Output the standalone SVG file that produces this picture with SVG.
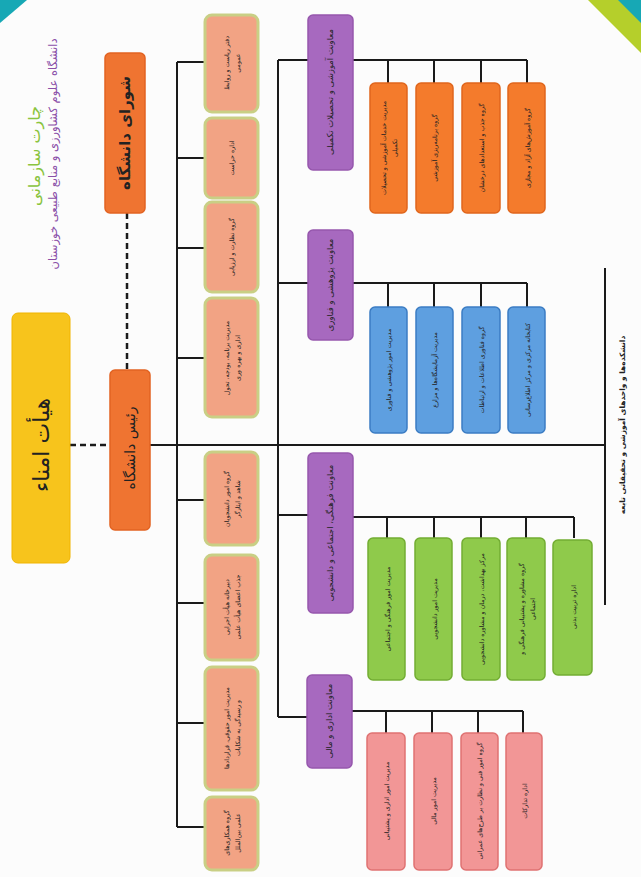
<svg xmlns="http://www.w3.org/2000/svg" width="641" height="877" viewBox="0 0 641 877">
<defs>
<style>
text{font-family:"DejaVu Sans","Noto Sans",sans-serif;fill:#222;text-anchor:middle;dominant-baseline:central}
.ln{stroke:#1a1a1a;stroke-width:2;fill:none}
.dash{stroke:#1a1a1a;stroke-width:2.5;stroke-dasharray:6 4;fill:none}
.sal{fill:#f2a384;stroke:#c9cf85;stroke-width:3}
.pur{fill:#a769bf;stroke:#9657ad;stroke-width:1.5}
.org{fill:#f47b2c;stroke:#e0661c;stroke-width:1.5}
.blu{fill:#5e9fe0;stroke:#3b7cc3;stroke-width:1.5}
.grn{fill:#8fca4b;stroke:#73ad33;stroke-width:1.5}
.pnk{fill:#f29696;stroke:#df7272;stroke-width:1.5}
.top{fill:#ef7431;stroke:#e26322;stroke-width:1.5}
.s{font-size:6.3px}
.m{font-size:8.5px}
</style>
</defs>
<rect width="641" height="877" fill="#fcfcfc"/>
<polygon points="0,0 27,0 0,23" fill="#17a8b5"/>
<polygon points="588,0 641,0 641,53" fill="#b5cf2b"/>
<polygon points="618,0 641,0 641,23" fill="#17a8b5"/>

<g id="title">
<text transform="translate(34,156) rotate(-90)" style="font-size:16px;fill:#8ac43f">چارت سازمانی</text>
<text transform="translate(53,154) rotate(-90)" style="font-size:11.5px;fill:#8a4fa8">دانشگاه علوم کشاورزی و منابع طبیعی خوزستان</text>
</g>

<g id="connectors">
<line class="dash" x1="127" y1="213" x2="127" y2="370"/>
<line class="dash" x1="70" y1="445" x2="110" y2="445"/>
<line class="ln" x1="150" y1="445" x2="605" y2="445"/>
<line class="ln" x1="177" y1="62" x2="177" y2="827"/>
<path class="ln" d="M177 62H205M177 158H205M177 248H205M177 358H205M177 500H205M177 603H205M177 723H205M177 827H205"/>
<line class="ln" x1="278" y1="60" x2="278" y2="717"/>
<path class="ln" d="M278 60H308M278 283H308M278 515H308M278 717H307"/>
<line class="ln" x1="605" y1="268" x2="605" y2="605"/>
<path class="ln" d="M353 60H527M388 60V83M434 60V83M481 60V83M527 60V83"/>
<path class="ln" d="M353 283H527M388 283V307M434 283V307M481 283V307M527 283V307"/>
<path class="ln" d="M353 517H574M387 517V538M434 517V538M481 517V538M526 517V538M574 517V538"/>
<path class="ln" d="M352 711H523M386 711V733M432 711V733M478 711V733M523 711V733"/>
</g>

<g id="board">
<rect x="12" y="313" width="58" height="250" rx="6" fill="#f7c41c" stroke="#f0b400" stroke-width="1"/>
<text transform="translate(41,445) rotate(-90)" style="font-size:22px">هیأت امناء</text>
</g>
<g id="council">
<rect class="top" x="105" y="53" width="40" height="160" rx="5"/>
<text transform="translate(125,133) rotate(-90)" style="font-size:15px;font-weight:bold">شورای دانشگاه</text>
</g>
<g id="president">
<rect class="top" x="110" y="370" width="40" height="160" rx="5"/>
<text transform="translate(130,448) rotate(-90)" style="font-size:14px">رئیس دانشگاه</text>
</g>

<g id="s1"><rect class="sal" x="205" y="15" width="53" height="97" rx="7"/>
<text class="s" transform="translate(231,63) rotate(-90)"><tspan x="0" dy="-5">دفتر ریاست و روابط</tspan><tspan x="0" dy="11">عمومی</tspan></text></g>
<g id="s2"><rect class="sal" x="205" y="118" width="53" height="80" rx="7"/>
<text class="s" transform="translate(231,158) rotate(-90)">اداره حراست</text></g>
<g id="s3"><rect class="sal" x="205" y="202" width="53" height="90" rx="7"/>
<text class="s" transform="translate(231,247) rotate(-90)">گروه نظارت و ارزیابی</text></g>
<g id="s4"><rect class="sal" x="205" y="298" width="53" height="119" rx="7"/>
<text class="s" transform="translate(231,358) rotate(-90)"><tspan x="0" dy="-5">مدیریت برنامه، بودجه، تحول</tspan><tspan x="0" dy="11">اداری و بهره وری</tspan></text></g>
<g id="s5"><rect class="sal" x="205" y="452" width="53" height="93" rx="7"/>
<text class="s" transform="translate(231,499) rotate(-90)"><tspan x="0" dy="-5">گروه امور دانشجویان</tspan><tspan x="0" dy="11">شاهد و ایثارگر</tspan></text></g>
<g id="s6"><rect class="sal" x="205" y="555" width="53" height="105" rx="7"/>
<text class="s" transform="translate(231,607) rotate(-90)"><tspan x="0" dy="-5">دبیرخانه هیأت اجرایی</tspan><tspan x="0" dy="11">جذب اعضای هیأت علمی</tspan></text></g>
<g id="s7"><rect class="sal" x="205" y="667" width="53" height="123" rx="7"/>
<text class="s" transform="translate(231,728) rotate(-90)"><tspan x="0" dy="-5">مدیریت امور حقوقی، قراردادها</tspan><tspan x="0" dy="11">و رسیدگی به شکایات</tspan></text></g>
<g id="s8"><rect class="sal" x="205" y="797" width="53" height="73" rx="7"/>
<text class="s" transform="translate(231,833) rotate(-90)"><tspan x="0" dy="-5">گروه همکاری‌های</tspan><tspan x="0" dy="11">علمی بین‌الملل</tspan></text></g>

<g id="p1"><rect class="pur" x="308" y="15" width="45" height="155" rx="5"/>
<text class="m" transform="translate(330,92) rotate(-90)">معاونت آموزشی و تحصیلات تکمیلی</text></g>
<g id="p2"><rect class="pur" x="308" y="230" width="45" height="110" rx="5"/>
<text class="m" transform="translate(330,285) rotate(-90)">معاونت پژوهشی و فناوری</text></g>
<g id="p3"><rect class="pur" x="308" y="453" width="45" height="160" rx="5"/>
<text class="m" transform="translate(330,533) rotate(-90)">معاونت فرهنگی، اجتماعی و دانشجویی</text></g>
<g id="p4"><rect class="pur" x="307" y="675" width="45" height="93" rx="5"/>
<text class="m" transform="translate(329,721) rotate(-90)">معاونت اداری و مالی</text></g>

<g id="o1"><rect class="org" x="370" y="83" width="37" height="130" rx="5"/>
<text class="s" transform="translate(388,148) rotate(-90)"><tspan x="0" dy="-5">مدیریت خدمات آموزشی و تحصیلات</tspan><tspan x="0" dy="11">تکمیلی</tspan></text></g>
<g id="o2"><rect class="org" x="416" y="83" width="37" height="130" rx="5"/>
<text class="s" transform="translate(434,148) rotate(-90)">گروه برنامه‌ریزی آموزشی</text></g>
<g id="o3"><rect class="org" x="462" y="83" width="38" height="130" rx="5"/>
<text class="s" transform="translate(481,148) rotate(-90)">گروه جذب و استعدادهای درخشان</text></g>
<g id="o4"><rect class="org" x="508" y="83" width="37" height="130" rx="5"/>
<text class="s" transform="translate(527,148) rotate(-90)">گروه آموزش‌های آزاد و مجازی</text></g>

<g id="b1"><rect class="blu" x="370" y="307" width="37" height="126" rx="5"/>
<text class="s" transform="translate(388,370) rotate(-90)">مدیریت امور پژوهشی و فناوری</text></g>
<g id="b2"><rect class="blu" x="416" y="307" width="37" height="126" rx="5"/>
<text class="s" transform="translate(434,370) rotate(-90)">مدیریت آزمایشگاه‌ها و مزارع</text></g>
<g id="b3"><rect class="blu" x="462" y="307" width="38" height="126" rx="5"/>
<text class="s" transform="translate(481,370) rotate(-90)">گروه فناوری اطلاعات و ارتباطات</text></g>
<g id="b4"><rect class="blu" x="508" y="307" width="37" height="126" rx="5"/>
<text class="s" transform="translate(527,370) rotate(-90)">کتابخانه مرکزی و مرکز اطلاع‌رسانی</text></g>

<g id="g1"><rect class="grn" x="368" y="538" width="37" height="142" rx="5"/>
<text class="s" transform="translate(387,609) rotate(-90)">مدیریت امور فرهنگی و اجتماعی</text></g>
<g id="g2"><rect class="grn" x="415" y="538" width="37" height="142" rx="5"/>
<text class="s" transform="translate(434,609) rotate(-90)">مدیریت امور دانشجویی</text></g>
<g id="g3"><rect class="grn" x="462" y="538" width="38" height="142" rx="5"/>
<text class="s" transform="translate(481,609) rotate(-90)">مرکز بهداشت، درمان و مشاوره دانشجویی</text></g>
<g id="g4"><rect class="grn" x="507" y="538" width="38" height="142" rx="5"/>
<text class="s" transform="translate(526,609) rotate(-90)"><tspan x="0" dy="-5">گروه مشاوره و پشتیبانی فرهنگی و</tspan><tspan x="0" dy="11">اجتماعی</tspan></text></g>
<g id="g5"><rect class="grn" x="553" y="540" width="39" height="135" rx="5"/>
<text class="s" transform="translate(573,607) rotate(-90)">اداره تربیت بدنی</text></g>

<g id="k1"><rect class="pnk" x="367" y="733" width="38" height="137" rx="5"/>
<text class="s" transform="translate(386,801) rotate(-90)">مدیریت امور اداری و پشتیبانی</text></g>
<g id="k2"><rect class="pnk" x="414" y="733" width="38" height="137" rx="5"/>
<text class="s" transform="translate(433,801) rotate(-90)">مدیریت امور مالی</text></g>
<g id="k3"><rect class="pnk" x="461" y="733" width="37" height="137" rx="5"/>
<text class="s" transform="translate(479,801) rotate(-90)">گروه امور فنی و نظارت بر طرح‌های عمرانی</text></g>
<g id="k4"><rect class="pnk" x="506" y="733" width="36" height="137" rx="5"/>
<text class="s" transform="translate(524,801) rotate(-90)">اداره تدارکات</text></g>

<g id="faculties">
<text transform="translate(622,425) rotate(-90)" style="font-size:7.5px;font-weight:bold">دانشکده‌ها و واحدهای آموزشی و تحقیقاتی تابعه</text>
</g>
</svg>
